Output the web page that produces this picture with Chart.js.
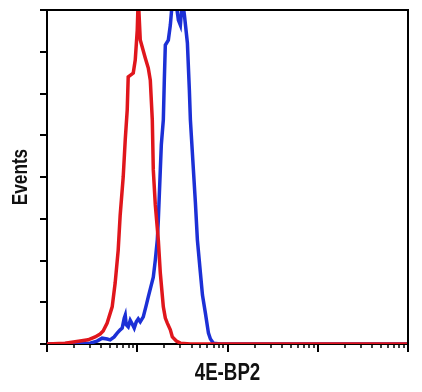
<!DOCTYPE html>
<html>
<head>
<meta charset="utf-8">
<script src="https://cdn.jsdelivr.net/npm/chart.js@4.4.0/dist/chart.umd.min.js"></script>
<style>
  html, body { margin: 0; padding: 0; background: #fff; }
  #wrap { width: 422px; height: 392px; }
</style>
</head>
<body>
<div id="wrap"><canvas id="histo"></canvas></div>
<script>
// fluorescence intensity (log) and event counts
var redX = [1, 1.585, 2.326, 2.855, 3.415, 3.88, 4.19, 4.64, 5.275, 5.69, 6.15, 6.47, 6.99, 7.36, 7.74, 7.94, 9.03, 9.5, 10, 10.26, 10.8, 12.27, 13.25, 13.95, 14.68, 15.06, 15.85, 17.12, 18.01, 19.45, 20.47, 21.54, 23.26, 24.48, 27.13, 30.05, 38.8, 10000];
var redY = [0, 2, 7, 10, 17, 24, 31, 50, 89, 146, 225, 309, 400, 489, 560, 640, 649, 680, 752, 830, 728, 685, 661, 632, 537, 417, 333, 249, 170, 89, 62, 50, 34, 17, 7, 2, 0, 0];

var blueX = [1, 3.0, 3.59, 4.08, 4.64, 5.01, 5.55, 5.99, 6.47, 6.81, 7.17, 7.36, 7.55, 7.94, 8.36, 8.8, 9.26, 9.75, 10.26, 10.8, 11.66, 12.59, 13.25, 14.3, 15.06, 15.85, 16.68, 17.12, 18.01, 18.48, 19.45, 19.95, 20.47, 22.1, 23.26, 24.48, 26.44, 28.55, 30.05, 31.62, 33.3, 35.94, 37.8, 38.8, 41.9, 44.1, 46.4, 50.1, 52.8, 56.9, 61.5, 64.7, 69.9, 83.6, 10000];
var blueY = [0, 2, 7, 14, 12, 10, 17, 26, 34, 38, 62, 69, 46, 41, 57, 48, 38, 53, 60, 53, 65, 93, 113, 141, 160, 201, 249, 297, 417, 477, 537, 632, 716, 728, 764, 820, 830, 776, 764, 825, 788, 721, 608, 537, 417, 338, 249, 170, 117, 74, 26, 12, 2, 0, 0];

var xMin = 1, xMax = 10000;
var yMax = 800, yStep = 100;
var xTitle = '4E-BP2';
var yTitle = 'Events';

function toPoints(xs, ys) {
    return xs.map(function(x, i) { return {x: x, y: ys[i]}; });
}

// condensed bold text: no condensed face installed, so squeeze a bold one
function squeezedText(ctx, text, x, y, rot, size) {
    ctx.save();
    ctx.translate(x, y);
    ctx.rotate(rot);
    ctx.scale(0.78, 1);
    ctx.font = 'bold ' + size + 'px "Liberation Sans", Arial, sans-serif';
    ctx.fillStyle = '#111';
    ctx.textAlign = 'center';
    ctx.textBaseline = 'alphabetic';
    ctx.fillText(text, 0, 0);
    ctx.restore();
}

// log axis tick marks (long at decades), frame on top/right, axis titles
var extras = {
    id: 'extras',
    afterDatasetsDraw: function(chart) {
        var ctx = chart.ctx;
        var xs = chart.scales.x;
        var area = chart.chartArea;
        ctx.save();
        ctx.strokeStyle = '#000';
        for (var d = 1; d <= xMax; d *= 10) {
            for (var m = 1; m <= 9; m++) {
                var v = m * d;
                if (v > xMax) break;
                var px = Math.round(xs.getPixelForValue(v));
                ctx.lineWidth = m === 1 ? 2 : 1.5;
                ctx.beginPath();
                ctx.moveTo(px, area.bottom);
                ctx.lineTo(px, area.bottom + (m === 1 ? 8 : 4));
                ctx.stroke();
            }
        }
        ctx.lineWidth = 2;
        ctx.beginPath();
        ctx.moveTo(area.left, area.top);
        ctx.lineTo(area.right, area.top);
        ctx.lineTo(area.right, area.bottom);
        ctx.stroke();
        ctx.restore();

        squeezedText(ctx, xTitle, (area.left + area.right) / 2, area.bottom + 36, 0, 24);
        squeezedText(ctx, yTitle, 27, (area.top + area.bottom) / 2, -Math.PI / 2, 22);
    }
};

new Chart(document.getElementById('histo'), {
    type: 'line',
    data: {
        datasets: [{
            label: 'Control',
            data: toPoints(redX, redY),
            borderColor: '#e0161c',
            borderWidth: 3.5,
            pointRadius: 0,
            tension: 0,
            fill: false
        }, {
            label: '4E-BP2',
            data: toPoints(blueX, blueY),
            borderColor: '#1c30d6',
            borderWidth: 3.5,
            pointRadius: 0,
            tension: 0,
            fill: false
        }]
    },
    options: {
        responsive: true,
        maintainAspectRatio: false,
        animation: false,
        layout: { padding: { left: 40, right: 14, top: 10, bottom: 40 } },
        plugins: {
            legend: { display: false },
            tooltip: { enabled: false }
        },
        scales: {
            x: {
                type: 'logarithmic',
                min: xMin,
                max: xMax,
                ticks: { display: false },
                grid: { drawOnChartArea: false, drawTicks: true, tickLength: 8, color: 'rgba(0,0,0,0)' },
                border: { display: true, color: '#000', width: 2 }
            },
            y: {
                min: 0,
                max: yMax,
                ticks: { display: false, stepSize: yStep },
                grid: { drawOnChartArea: false, drawTicks: true, tickLength: 7, color: '#000', lineWidth: 2 },
                border: { display: true, color: '#000', width: 2 }
            }
        }
    },
    plugins: [extras]
});
</script>
</body>
</html>
